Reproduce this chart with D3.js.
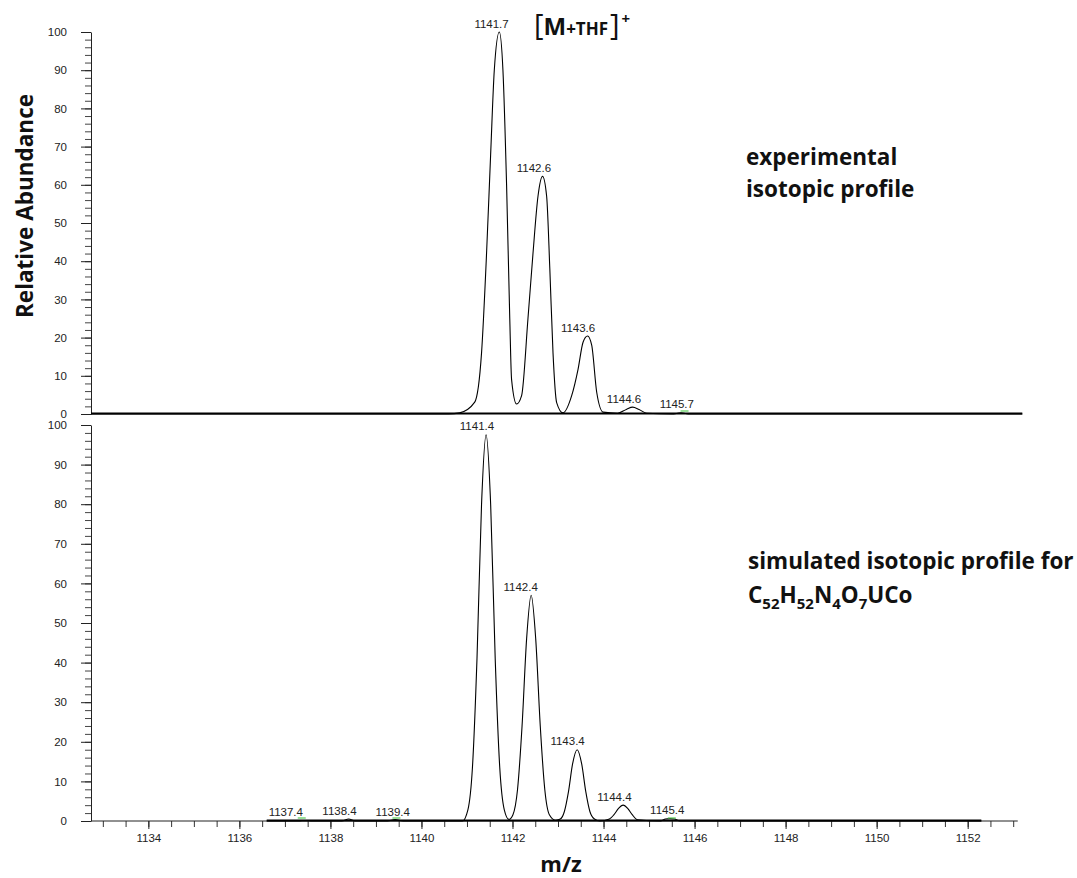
<!DOCTYPE html>
<html>
<head>
<meta charset="utf-8">
<script src="https://cdn.jsdelivr.net/npm/d3@7"></script>
<style>
  body { margin: 0; background: #fff; }
  svg text { font-family: 'Liberation Sans', Arial, sans-serif; }
  .note { font-family: 'Open Sans', Lato, sans-serif; font-weight: 700; fill: #111; }
</style>
</head>
<body>
<svg id="chart" width="1077" height="878"></svg>
<script>
// m/z window of both panels
const mzDomain = [1132.74, 1153.2]

// experimental profile (top)
const expMz = [1132.74, 1140.6, 1140.84, 1141.17, 1141.32, 1141.43, 1141.52, 1141.60, 1141.71, 1141.79,
               1141.87, 1141.94, 1141.98, 1142.09, 1142.20, 1142.34, 1142.45, 1142.56, 1142.66, 1142.75,
               1142.82, 1142.89, 1142.97, 1143.11, 1143.30, 1143.44, 1143.55, 1143.65, 1143.74, 1143.85,
               1143.99, 1144.31, 1144.50, 1144.64, 1144.78, 1144.95, 1145.5, 1145.7, 1145.9, 1153.2]
const expAb = [0, 0, 0.3, 3.1, 16, 42, 68, 90, 100, 90,
               60, 25, 9, 2.6, 4.8, 25, 42, 57, 62.2, 57,
               38, 16, 3, 0.3, 4.8, 11.7, 18.8, 20.4, 18, 5.7,
               0.5, 0.2, 1.2, 1.8, 1.2, 0.2, 0, 0.3, 0, 0]
const expLabels   = ['1141.7', '1142.6', '1143.6', '1144.6', '1145.7']
const expLabelMz  = [1141.54, 1142.47, 1143.44, 1144.45, 1145.61]
const expLabelAb  = [100, 62.2, 20.4, 1.8, 0.3]
const expGreenMz  = [1145.78]

// simulated profile (bottom)
const simMz = [1136.6, 1137.3, 1137.45, 1137.6, 1138.25, 1138.4, 1138.55, 1139.25, 1139.42, 1139.6,
               1140.9, 1141.02, 1141.12, 1141.22, 1141.32, 1141.42, 1141.52, 1141.62, 1141.72, 1141.82,
               1141.92, 1142.01, 1142.11, 1142.21, 1142.31, 1142.41, 1142.51, 1142.61, 1142.71, 1142.81,
               1142.95, 1143.05, 1143.14, 1143.23, 1143.32, 1143.42, 1143.52, 1143.61, 1143.70, 1143.80,
               1143.92, 1144.13, 1144.23, 1144.33, 1144.43, 1144.53, 1144.63, 1144.75, 1145.25, 1145.36,
               1145.46, 1145.56, 1145.68, 1152.3]
const simAb = [0, 0, 0.1, 0, 0, 0.5, 0, 0, 0.35, 0,
               0, 2.8, 13.5, 41, 80, 97.5, 80, 41, 13.5, 2.8,
               0.4, 1.6, 7.9, 24, 46, 57, 46, 24, 7.9, 1.6,
               0.2, 0.5, 2.4, 7.4, 14.4, 18, 14.4, 7.4, 2.4, 0.5,
               0, 0.5, 1.6, 3.2, 4, 3.2, 1.6, 0.3, 0, 0.5,
               0.6, 0.5, 0, 0]
const simLabels  = ['1137.4', '1138.4', '1139.4', '1141.4', '1142.4', '1143.4', '1144.4', '1145.4']
const simLabelMz = [1137.02, 1138.20, 1139.37, 1141.22, 1142.18, 1143.21, 1144.24, 1145.40]
const simLabelAb = [0.1, 0.5, 0.1, 97.5, 57, 18, 4, 0.6]
const simGreenMz = [1137.37, 1139.45, 1145.50]

const yTicks      = d3.range(0, 101, 10)
const yMinorTicks = d3.range(0, 101, 2)
const xTicks      = d3.range(1134, 1153, 2)
const xMinorTicks = d3.range(1133, 1153.01, 0.5)

const svg = d3.select('#chart')
const x   = d3.scaleLinear().domain(mzDomain).range([91, 1022.3])
const yExp = d3.scaleLinear().domain([0, 100]).range([414, 32])
const ySim = d3.scaleLinear().domain([0, 100]).range([821, 425])

function _yAxis(y) {
  let g = svg.append('g').attr('transform', 'translate(91,0)')
  g.append('g')
    .call(d3.axisLeft(y).tickValues(yMinorTicks).tickSize(6).tickFormat(''))
    .call(a => a.select('.domain').remove())
    .selectAll('line').attr('stroke', '#444')
  g.append('g')
    .call(d3.axisLeft(y).tickValues(yTicks).tickSize(10).tickSizeOuter(0).tickPadding(14))
    .call(a => a.select('.domain').attr('stroke', '#222'))
    .call(a => a.selectAll('line').attr('stroke', '#222'))
    .selectAll('text').attr('font-size', 11.5).attr('fill', '#222')
}

function _panel(y, mz, ab, labels, labelMz, labelAb, greenMz) {
  let data = mz.map((m, i) => [m, ab[i]])
  let line = d3.line().x(d => x(d[0])).y(d => y(d[1])).curve(d3.curveMonotoneX)

  // the flat base of the trace reads heavier than the peaks
  svg.append('line')
    .attr('x1', x(d3.min(mz))).attr('x2', x(d3.max(mz)))
    .attr('y1', y(0) - 0.5).attr('y2', y(0) - 0.5)
    .attr('stroke', '#000').attr('stroke-width', 2)

  svg.append('path')
    .datum(data)
    .attr('d', line)
    .attr('fill', 'none')
    .attr('stroke', '#000')
    .attr('stroke-width', 1.1)

  svg.append('g').selectAll('line')
    .data(greenMz).enter().append('line')
    .attr('x1', d => x(d) - 4).attr('x2', d => x(d) + 4)
    .attr('y1', y(0) - 3).attr('y2', y(0) - 3)
    .attr('stroke', '#5c5').attr('stroke-width', 1.2)

  svg.append('g').selectAll('text')
    .data(labels).enter().append('text')
    .attr('x', (d, i) => x(labelMz[i]))
    .attr('y', (d, i) => y(labelAb[i]) - 4.5)
    .attr('text-anchor', 'middle')
    .attr('font-size', 11.5)
    .attr('fill', '#222')
    .text(d => d)
}

_yAxis(yExp)
_yAxis(ySim)

// bottom m/z axis
let xa = svg.append('g').attr('transform', `translate(0,${ySim(0)})`)
xa.append('g')
  .call(d3.axisBottom(x).tickValues(xMinorTicks).tickSize(6).tickFormat(''))
  .call(a => a.select('.domain').remove())
  .selectAll('line').attr('stroke', '#333')
xa.append('g')
  .call(d3.axisBottom(x).tickValues(xTicks).tickSize(8).tickPadding(5).tickFormat(d3.format('d')))
  .call(a => a.select('.domain').remove())
  .call(a => a.selectAll('line').attr('stroke', '#222'))
  .selectAll('text').attr('font-size', 11.5).attr('fill', '#222')
xa.append('line')
  .attr('x1', x(mzDomain[0])).attr('x2', x(1153.1))
  .attr('stroke', '#222')

_panel(yExp, expMz, expAb, expLabels, expLabelMz, expLabelAb, expGreenMz)
_panel(ySim, simMz, simAb, simLabels, simLabelMz, simLabelAb, simGreenMz)

// titles and notes
svg.append('text').attr('class', 'note')
  .attr('transform', 'translate(33,206) rotate(-90)')
  .attr('text-anchor', 'middle')
  .attr('font-size', 22.5)
  .text('Relative Abundance')

svg.append('text').attr('class', 'note')
  .attr('x', 561).attr('y', 872)
  .attr('text-anchor', 'middle')
  .attr('font-size', 22)
  .text('m/z')

let ion = svg.append('text').attr('class', 'note').attr('x', 534).attr('y', 35)
ion.append('tspan').attr('font-size', 29).attr('font-weight', 400).text('[')
ion.append('tspan').attr('font-size', 24).text('M')
ion.append('tspan').attr('font-size', 17).text('+THF')
ion.append('tspan').attr('font-size', 29).attr('font-weight', 400).attr('dx', 2).text(']')
ion.append('tspan').attr('font-size', 15).attr('dx', 2).attr('dy', -11).text('+')

let expNote = svg.append('text').attr('class', 'note').attr('font-size', 22.5)
expNote.append('tspan').attr('x', 746).attr('y', 165).text('experimental')
expNote.append('tspan').attr('x', 746).attr('y', 197).text('isotopic profile')

let simNote = svg.append('text').attr('class', 'note').attr('font-size', 22.5)
simNote.append('tspan').attr('x', 748).attr('y', 569).text('simulated isotopic profile for')
let formula = [['C', ''], ['52', 's'], ['H', ''], ['52', 's'], ['N', ''], ['4', 's'], ['O', ''], ['7', 's'], ['UCo', '']]
let f = svg.append('text').attr('class', 'note').attr('x', 748).attr('y', 603).attr('font-size', 22.5)
let prev = ''
formula.forEach(([t, k]) => {
  let dy = k === 's' && prev !== 's' ? 6 : (k !== 's' && prev === 's' ? -6 : 0)
  f.append('tspan').attr('dy', dy).attr('font-size', k === 's' ? 15 : 22.5).text(t)
  prev = k
})
</script>
</body>
</html>
